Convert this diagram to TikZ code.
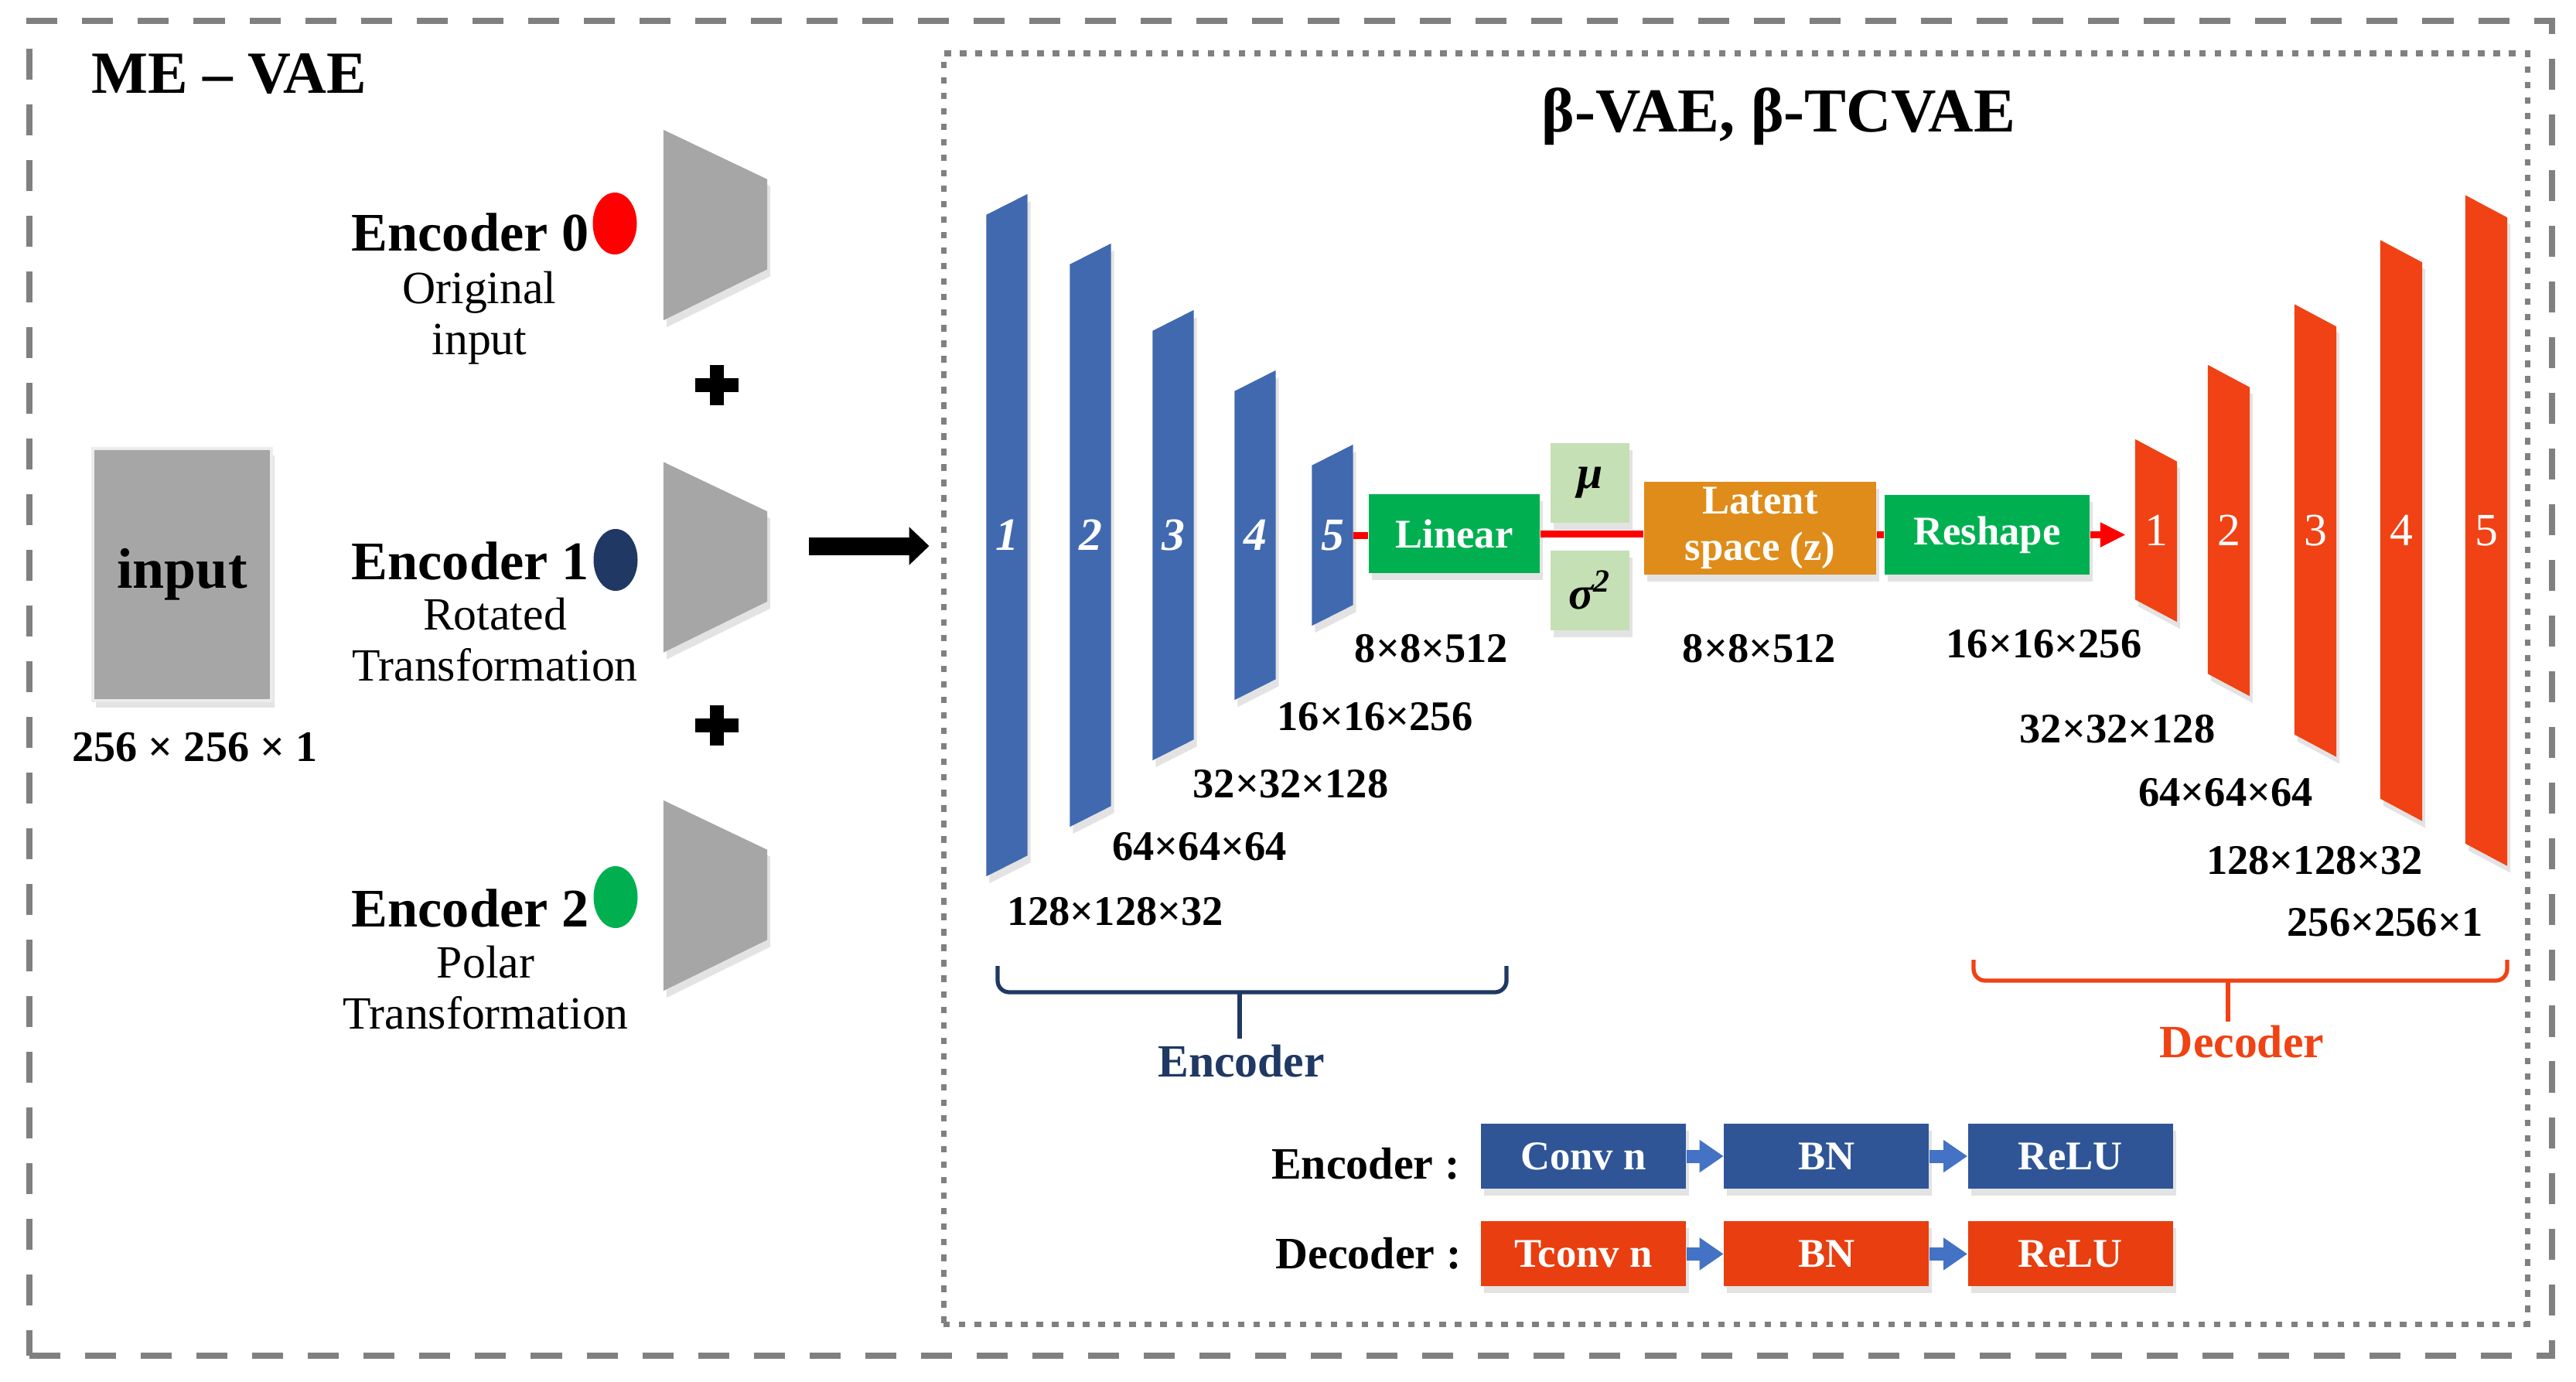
\documentclass[tikz,border=0pt]{standalone}
\usepackage{fontspec}
\setmainfont{Liberation Serif}
\usetikzlibrary{positioning, arrows.meta, shapes.geometric, shadows}

\definecolor{encblue}{RGB}{65,105,175}
\definecolor{decred}{RGB}{240,66,20}
\definecolor{boxgreen}{RGB}{0,176,80}
\definecolor{palegreen}{RGB}{197,224,180}
\definecolor{latorange}{RGB}{223,140,26}
\definecolor{navy}{RGB}{31,56,100}
\definecolor{legblue}{RGB}{47,85,151}
\definecolor{legred}{RGB}{232,62,16}
\definecolor{arrblue}{RGB}{68,114,196}
\definecolor{framegray}{RGB}{128,128,128}
\definecolor{trapgray}{RGB}{166,166,166}

\begin{document}
\begin{tikzpicture}[x=1cm, y=-1cm,
  soft/.style={drop shadow={shadow xshift=0.4mm, shadow yshift=-0.9mm, opacity=0.22}},
  outerframe/.style={draw=framegray, line width=2.3pt, dash pattern=on 11.4pt off 9.1pt},
  vaeframe/.style={draw=framegray, line width=2pt, dash pattern=on 2.4pt off 3.3pt},
  bigtitle/.style={font=\bfseries\fontsize{22}{25}\selectfont, inner sep=0pt},
  enclab/.style={font=\bfseries\fontsize{20}{23}\selectfont, anchor=base west, inner sep=0pt},
  sublab/.style={font=\fontsize{17}{18.8}\selectfont, align=center},
  dot/.style={ellipse, minimum width=0.57cm, minimum height=0.8cm, inner sep=0pt},
  trapnode/.style={minimum width=1.33cm, minimum height=2.45cm, inner sep=0pt},
  plusmark/.style={line width=1.8mm},
  bigarrow/.style={line width=2.3mm, -{Triangle[length=2.6mm, width=4.8mm]}, shorten >=1.5mm},
  layer/.style={minimum width=0.52cm, inner sep=0pt},
  layernum/.style={text=white, font=\fontsize{17}{18}\selectfont},
  dimlab/.style={font=\bfseries\fontsize{15.5}{17}\selectfont, anchor=base},
  boxtext/.style={text=white, font=\bfseries\fontsize{15}{17}\selectfont, inner sep=0pt, soft},
  stat/.style={fill=palegreen, minimum width=1.02cm, minimum height=1.03cm, inner sep=0pt, soft,
    font=\bfseries\itshape\fontsize{17}{18}\selectfont},
  redline/.style={red, line width=0.9mm},
  brace/.style={line width=1.5pt, rounded corners=1.5mm},
  legbox/.style={boxtext, minimum width=2.65cm, minimum height=0.84cm},
  legarrow/.style={arrblue, line width=1.7mm, -{Triangle[length=3.1mm, width=4mm]}},
  leglab/.style={font=\bfseries\fontsize{16.5}{18}\selectfont, anchor=base east, inner sep=0pt}]

\useasboundingbox (0,0) rectangle (33.31,17.86);

% frames
\node[outerframe, minimum width=32.62cm, minimum height=17.26cm] (me) at (16.69,8.90) {};
\node[vaeframe, minimum width=20.48cm, minimum height=16.43cm] (vae) at (22.44,8.905) {};
\node[bigtitle, anchor=base west] (metitle) at (1.18,1.20) {ME -- VAE};
\node[bigtitle, font=\bfseries\fontsize{23}{26}\selectfont, anchor=base] (vaetitle) at (23.00,1.70) {β-VAE, β-TCVAE};

% input image
\node[fill=trapgray, draw=white!85!gray, line width=1.2pt, minimum width=2.31cm, minimum height=3.26cm,
  font=\bfseries\fontsize{21}{24}\selectfont, soft] (img) at (2.355,7.43) {input};
\node[font=\bfseries\fontsize{16}{18}\selectfont, anchor=base] (imgsize) at (2.52,9.84) {256 × 256 × 1};

% three encoders
\node[enclab] (enc0) at (4.54,3.24) {Encoder 0};
\node[enclab] (enc1) at (4.54,7.49) {Encoder 1};
\node[enclab] (enc2) at (4.54,11.98) {Encoder 2};
\node[dot, fill=red] (dot0) at (7.95,2.89) {};
\node[dot, fill=navy] (dot1) at (7.96,7.24) {};
\node[dot, fill=boxgreen] (dot2) at (7.96,11.60) {};
\node[sublab] (sub0) at (6.20,4.115) {Original\\input};
\node[sublab] (sub1) at (6.40,8.275) {Rotated\\Transformation};
\node[sublab] (sub2) at (6.28,12.77) {Polar\\Transformation};

\foreach \j/\yc in {0/2.91, 1/7.205, 2/11.58}{
  \node[trapnode] (t\j) at (9.25,\yc) {};
  \fill[trapgray, soft] (t\j.north west) -- ([yshift=-6.4mm]t\j.north east)
    -- ([yshift=6.6mm]t\j.south east) -- (t\j.south west) -- cycle;
}
\foreach \p/\yp in {1/4.98, 2/9.38}{
  \coordinate (plus\p) at (9.27,\yp);
  \draw[plusmark] ([xshift=-2.8mm]plus\p) -- ([xshift=2.8mm]plus\p)
    ([yshift=-2.6mm]plus\p) -- ([yshift=2.6mm]plus\p);
}
\coordinate (fuse) at (10.46,7.06);
\draw[bigarrow] (fuse) -- (fuse -| vae.west);

% encoder layers
\foreach \i/\x/\h in {1/13.02/8.54, 2/14.10/7.26, 3/15.17/5.54, 4/16.23/3.98, 5/17.23/2.06}{
  \node[layer, minimum height=\h cm] (e\i) at (\x,6.92) {};
  \fill[encblue, soft] ([yshift=-1.35mm]e\i.north west) -- ([yshift=1.35mm]e\i.north east)
    -- ([yshift=1.35mm]e\i.south east) -- ([yshift=-1.35mm]e\i.south west) -- cycle;
  \node[layernum, font=\bfseries\itshape\fontsize{17}{18}\selectfont] (ne\i) at (e\i) {\i};
}

% bottleneck
\node[boxtext, fill=boxgreen, minimum width=2.21cm, minimum height=1.02cm] (lin) at (18.805,6.90) {Linear};
\node[stat] (mu) at (20.56,6.245) {μ};
\node[stat] (sig) at (20.56,7.63) {σ\textsuperscript{2}};
\node[boxtext, fill=latorange, minimum width=3.00cm, minimum height=1.20cm, align=center] (lat) at (22.76,6.83) {Latent\\space (z)};
\node[boxtext, fill=boxgreen, minimum width=2.65cm, minimum height=1.03cm] (rsh) at (25.695,6.915) {Reshape};

% decoder layers
\foreach \i/\x/\h in {1/27.88/2.06, 2/28.82/3.98, 3/29.94/5.55, 4/31.05/7.21, 5/32.15/8.37}{
  \node[layer, minimum width=0.53cm, minimum height=\h cm] (d\i) at (\x,6.86) {};
  \fill[decred, soft] ([yshift=1.45mm]d\i.north west) -- ([yshift=-1.45mm]d\i.north east)
    -- ([yshift=-1.45mm]d\i.south east) -- ([yshift=1.45mm]d\i.south west) -- cycle;
  \node[layernum] (nd\i) at (d\i) {\i};
}

\draw[redline] (e5.east) -- (e5.east -| lin.west);
\draw[redline] (lin.east) -- (lin.east -| lat.west);
\draw[redline] (lat.east |- rsh.west) -- (rsh.west);
\draw[redline, -{Triangle[length=3.3mm, width=3mm]}, shorten >=1.2mm] (rsh.east) -- (rsh.east -| d1.west);

% sizes
\foreach \n/\x/\y/\t in {ed5/18.51/8.56/8×8×512, ed4/17.78/9.44/16×16×256, ed3/16.69/10.31/32×32×128,
  ed2/15.51/11.12/64×64×64, ed1/14.42/11.96/128×128×32, ld/22.75/8.56/8×8×512,
  dd1/26.43/8.50/16×16×256, dd2/27.38/9.60/32×32×128, dd3/28.78/10.42/64×64×64,
  dd4/29.93/11.30/128×128×32, dd5/30.84/12.10/256×256×1}{
  \node[dimlab] (\n) at (\x,\y) {\t};
}

% braces
\draw[brace, navy] (12.90,12.49) |- (19.48,12.83) -- (19.48,12.49);
\draw[brace, navy] (16.03,12.83) -- (16.03,13.43);
\node[font=\bfseries\fontsize{17}{19}\selectfont, text=navy, anchor=base] (encpart) at (16.05,13.92) {Encoder};
\draw[brace, decred] (25.52,12.41) |- (32.42,12.68) -- (32.42,12.41);
\draw[brace, decred] (28.81,12.68) -- (28.81,13.21);
\node[font=\bfseries\fontsize{17}{19}\selectfont, text=decred, anchor=base] (decpart) at (28.99,13.67) {Decoder};

% legend
\node[leglab] (legenc) at (18.88,15.24) {Encoder :};
\node[leglab] (legdec) at (18.90,16.40) {Decoder :};
\node[legbox, fill=legblue] (conv) at (20.475,14.95) {Conv n};
\node[legbox, fill=legblue, right=0.48cm of conv] (bnE) {BN};
\node[legbox, fill=legblue, right=0.49cm of bnE] (reluE) {ReLU};
\node[legbox, fill=legred, below=0.41cm of conv] (tconv) {Tconv n};
\node[legbox, fill=legred, right=0.48cm of tconv] (bnD) {BN};
\node[legbox, fill=legred, right=0.49cm of bnD] (reluD) {ReLU};
\draw[legarrow] (conv) -- (bnE);
\draw[legarrow] (bnE) -- (reluE);
\draw[legarrow] (tconv) -- (bnD);
\draw[legarrow] (bnD) -- (reluD);
\end{tikzpicture}
\end{document}
